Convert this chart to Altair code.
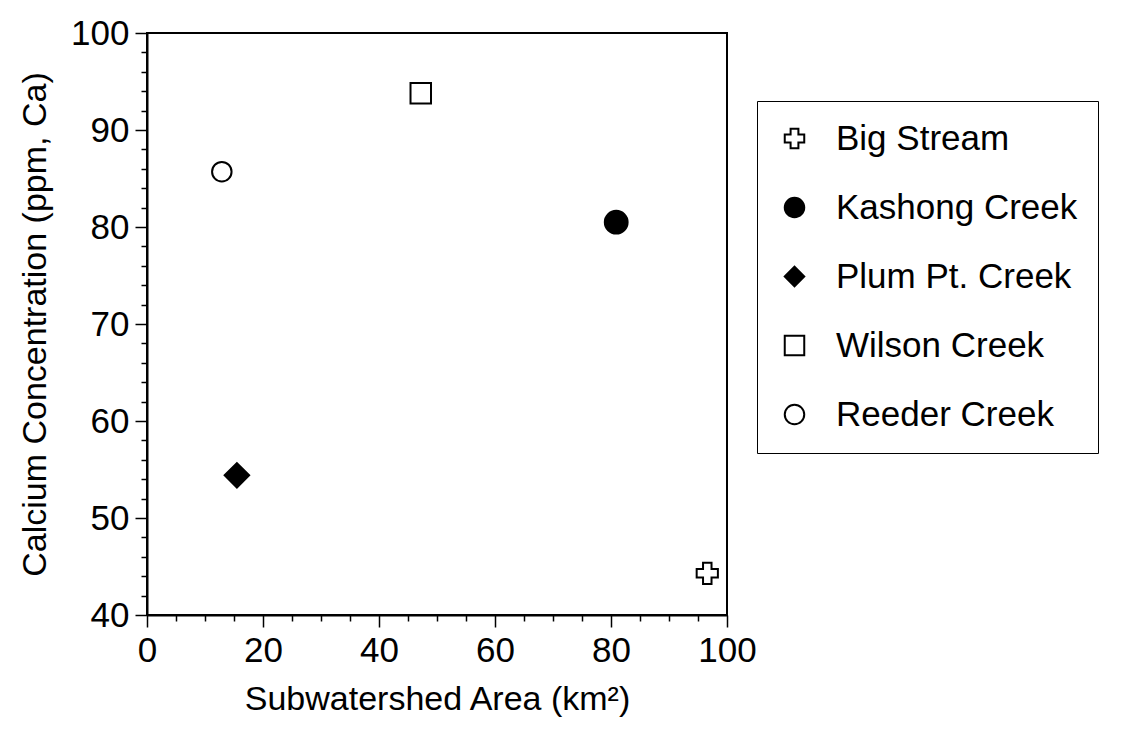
import altair as alt
import pandas as pd

sites = ["Big Stream", "Kashong Creek", "Plum Pt. Creek", "Wilson Creek", "Reeder Creek"]
area_km2 = [96.6, 80.9, 15.5, 47.2, 12.9]
calcium_ppm = [44.3, 80.5, 54.4, 93.8, 85.7]
shapes = ["cross", "circle", "diamond", "square", "circle"]
fills = ["white", "black", "black", "white", "white"]
strokes = ["black", "black", "black", "black", "black"]
sizes = [450, 520, 600, 420, 380]

x_ticks = list(range(0, 101, 5))
y_ticks = list(range(40, 101, 2))

df = pd.DataFrame({"site": sites, "area": area_km2, "ca": calcium_ppm, "sz": sizes})

FONT = "Liberation Sans"

legend = alt.Legend(
    title=None,
    orient="none",
    legendX=610,
    legendY=68,
    padding=20,
    rowPadding=33,
    strokeColor="black",
    labelFont=FONT,
    labelFontSize=35,
    labelColor="black",
    labelOffset=24,
    labelLimit=400,
    symbolSize=380,
    symbolStrokeWidth=2,
    symbolStrokeColor="black",
)

chart = alt.Chart(df).mark_point(filled=False, strokeWidth=2, opacity=1).encode(
    x=alt.X(
        "area:Q",
        scale=alt.Scale(domain=[0, 100], nice=False, zero=False),
        axis=alt.Axis(
            title="Subwatershed Area (km²)",
            values=x_ticks,
            labelExpr="datum.value % 20 === 0 ? datum.label : ''",
            tickSize={"condition": {"test": "datum.value % 20 === 0", "value": 12}, "value": 6},
            labelPadding=6,
            titlePadding=14,
        ),
    ),
    y=alt.Y(
        "ca:Q",
        scale=alt.Scale(domain=[40, 100], nice=False, zero=False),
        axis=alt.Axis(
            title="Calcium Concentration (ppm, Ca)",
            values=y_ticks,
            labelExpr="datum.value % 10 === 0 ? datum.label : ''",
            tickSize={"condition": {"test": "datum.value % 10 === 0", "value": 12}, "value": 6},
            labelPadding=6,
            titlePadding=18,
        ),
    ),
    shape=alt.Shape("site:N", scale=alt.Scale(domain=sites, range=shapes), legend=legend),
    fill=alt.Fill("site:N", scale=alt.Scale(domain=sites, range=fills), legend=legend),
    stroke=alt.Stroke("site:N", scale=alt.Scale(domain=sites, range=strokes), legend=legend),
    size=alt.Size("sz:Q", scale=None, legend=None),
).properties(
    width=580,
    height=582,
    padding={"left": 139, "top": 25, "right": 388, "bottom": 120},
    autosize=alt.AutoSizeParams(type="none"),
).configure_view(
    stroke="black", strokeWidth=2
).configure_axis(
    grid=False,
    domainColor="black",
    domainWidth=2,
    tickColor="black",
    tickWidth=1.5,
    labelColor="black",
    titleColor="black",
    labelFont=FONT,
    titleFont=FONT,
    labelFontSize=35,
    titleFontSize=34,
    titleFontWeight="normal",
    labelOverlap=False,
    labelFlush=False,
)

chart.save("out.html", embed_options={"renderer": "svg", "actions": False})
